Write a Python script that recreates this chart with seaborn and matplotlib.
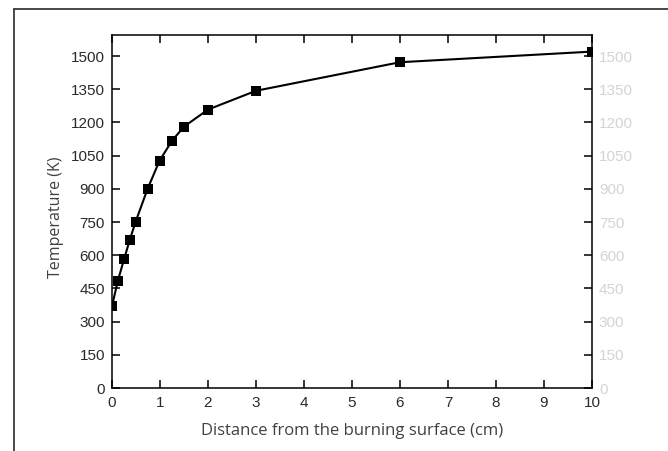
import matplotlib
matplotlib.use("Agg")
import matplotlib.pyplot as plt
from matplotlib.lines import Line2D
import seaborn as sns
import pandas as pd

distance_cm = [0.0, 0.12, 0.25, 0.37, 0.49, 0.74, 0.99, 1.25, 1.5, 2.0, 3.0, 6.0, 10.0]
temperature_K = [370, 483, 581, 669, 750, 899, 1027, 1117, 1181, 1258, 1343, 1472, 1520]
y_ticks = [0, 150, 300, 450, 600, 750, 900, 1050, 1200, 1350, 1500]
x_ticks = list(range(0, 11))

df = pd.DataFrame({"Distance": distance_cm, "Temperature": temperature_K})

sns.set_style("ticks")
plt.rcParams["font.family"] = ["Liberation Sans", "DejaVu Sans"]

fig = plt.figure(figsize=(6.68, 4.51), dpi=100)
ax = fig.add_axes([112 / 668, 1 - 388 / 451, (592 - 112) / 668, (388 - 35) / 451])

sns.lineplot(data=df, x="Distance", y="Temperature", ax=ax, color="black",
             marker="s", markersize=6.5, markeredgewidth=0, linewidth=1.5)

ax.set_xlim(0, 10)
ax.set_ylim(0, 1595)
ax.set_xticks(x_ticks)
ax.set_yticks(y_ticks)
ax.tick_params(axis="both", direction="in", length=6, width=1.1, labelsize=11,
               labelcolor="#2a2a2a", color="black", pad=5)
ax.tick_params(axis="x", top=True, pad=6)
ax.tick_params(axis="y", right=True, labelright=True)
for t in ax.yaxis.get_major_ticks():
    t.label2.set_color("#d4d4d4")
for s in ax.spines.values():
    s.set_visible(True)
    s.set_linewidth(1.1)
    s.set_color("black")

ax.set_xlabel("Distance from the burning surface (cm)", family=["Open Sans", "DejaVu Sans"],
              fontsize=12, color="#404040", labelpad=9)
ax.set_ylabel("Temperature (K)", family=["Open Sans", "DejaVu Sans"],
              fontsize=11.5, color="#404040")
ax.yaxis.set_label_coords(-0.100, 0.485)

# outer frame (left and top edges)
fig.add_artist(Line2D([13.5 / 668, 13.5 / 668], [0, 1 - 8.5 / 451], transform=fig.transFigure,
                      color="#3a3a3a", linewidth=1.3))
fig.add_artist(Line2D([13.5 / 668, 1], [1 - 8.5 / 451, 1 - 8.5 / 451], transform=fig.transFigure,
                      color="#3a3a3a", linewidth=1.3))

fig.savefig("out.png", dpi=100)
